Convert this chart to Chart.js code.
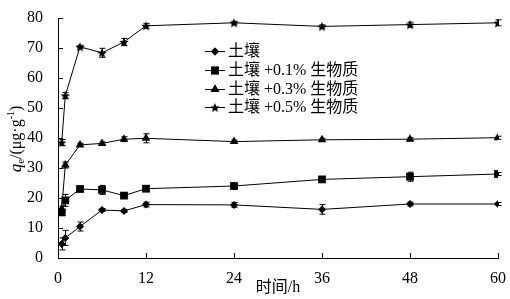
<!DOCTYPE html>
<html>
<head>
<meta charset="utf-8">
<script src="https://cdn.jsdelivr.net/npm/chart.js@4/dist/chart.umd.min.js"></script>
<style>
  html, body { margin: 0; padding: 0; background: #fff; }
  #wrap { width: 510px; height: 299px; }
</style>
</head>
<body>
<div id="wrap"><canvas id="c" width="510" height="299"></canvas></div>
<script>
// ── data ──
const hours   = [0.5, 1, 3, 6, 9, 12, 24, 36, 48, 60];
const soil    = [4.7, 6.7, 10.5, 16.0, 15.7, 17.8, 17.7, 16.2, 18.0, 18.0];
const soil01  = [15.2, 19.2, 23.0, 22.7, 20.8, 23.1, 24.0, 26.2, 27.1, 28.0];
const soil03  = [16.3, 31.0, 37.7, 38.2, 39.6, 39.9, 38.8, 39.4, 39.6, 40.1];
const soil05  = [38.5, 54.2, 70.4, 68.4, 72.0, 77.4, 78.4, 77.2, 77.8, 78.4];
const errSoil   = [2.0, 2.5, 1.5, 0.5, 0.5, 0.8, 0.8, 1.6, 0.6, 0.5];
const errSoil01 = [1.0, 2.0, 0.6, 1.5, 0.5, 0.8, 0.5, 0.6, 1.5, 0.5];
const errSoil03 = [1.0, 1.0, 0.5, 0.5, 0.8, 1.5, 0.5, 0.5, 0.5, 0.5];
const errSoil05 = [1.0, 1.0, 0.5, 1.5, 1.2, 0.8, 0.5, 0.5, 0.8, 1.0];
const xTicks = [0, 12, 24, 36, 48, 60];
const yTicks = [0, 10, 20, 30, 40, 50, 60, 70, 80];
const labels = ['土壤', '土壤 +0.1% 生物质', '土壤 +0.3% 生物质', '土壤 +0.5% 生物质'];

const FONT = '"Liberation Serif", "Times New Roman", "Noto Sans CJK SC", serif';

// filled star marker
function starImg(r) {
  const c = document.createElement('canvas');
  const s = Math.ceil(r * 2 + 2);
  c.width = s; c.height = s;
  const g = c.getContext('2d');
  g.fillStyle = '#000';
  g.beginPath();
  for (let i = 0; i < 10; i++) {
    const rr = i % 2 === 0 ? r : r * 0.45;
    const a = -Math.PI / 2 + i * Math.PI / 5;
    g.lineTo(s / 2 + rr * Math.cos(a), s / 2 + 0.5 + rr * Math.sin(a));
  }
  g.closePath(); g.fill();
  return c;
}
const star = starImg(5);

const series = [
  { data: soil,   err: errSoil,   style: 'rectRot',  radius: 4 },
  { data: soil01, err: errSoil01, style: 'rect',     radius: 5.5 },
  { data: soil03, err: errSoil03, style: 'triangle', radius: 5 },
  { data: soil05, err: errSoil05, style: star,       radius: 5 }
];

const datasets = series.map((s, i) => ({
  label: labels[i],
  data: hours.map((h, j) => ({ x: h, y: s.data[j] })),
  borderColor: '#000', backgroundColor: '#000', borderWidth: 1,
  pointStyle: s.style, pointRadius: s.radius, pointBorderWidth: 0,
  pointBackgroundColor: '#000', tension: 0
}));

// error bars, inward ticks, titles, legend
const decor = {
  id: 'decor',
  afterDatasetsDraw(chart) {
    const ctx = chart.ctx, xs = chart.scales.x, ys = chart.scales.y;
    ctx.save();
    ctx.strokeStyle = '#000'; ctx.lineWidth = 1;
    series.forEach(s => {
      hours.forEach((h, j) => {
        const px = Math.round(xs.getPixelForValue(h)) + 0.5;
        const y1 = ys.getPixelForValue(s.data[j] + s.err[j]);
        const y2 = ys.getPixelForValue(s.data[j] - s.err[j]);
        ctx.beginPath();
        ctx.moveTo(px, y1); ctx.lineTo(px, y2);
        ctx.moveTo(px - 3, y1); ctx.lineTo(px + 3, y1);
        ctx.moveTo(px - 3, y2); ctx.lineTo(px + 3, y2);
        ctx.stroke();
      });
    });
    ctx.restore();
  },
  afterDraw(chart) {
    const ctx = chart.ctx, xs = chart.scales.x, ys = chart.scales.y, a = chart.chartArea;
    ctx.save();
    ctx.strokeStyle = '#000'; ctx.lineWidth = 1;
    ctx.beginPath();
    xTicks.forEach(v => {
      const px = Math.round(xs.getPixelForValue(v)) + 0.5;
      ctx.moveTo(px, a.bottom); ctx.lineTo(px, a.bottom - 5);
    });
    yTicks.forEach(v => {
      const py = Math.round(ys.getPixelForValue(v)) + 0.5;
      ctx.moveTo(a.left, py); ctx.lineTo(a.left + 5, py);
    });
    ctx.stroke();

    // x title
    ctx.fillStyle = '#000';
    ctx.font = '16px ' + FONT;
    ctx.textAlign = 'center'; ctx.textBaseline = 'middle';
    ctx.fillText('时间/h', 278, 288);

    // y title (rotated, rich)
    ctx.save();
    ctx.translate(16, 139);
    ctx.rotate(-Math.PI / 2);
    ctx.textBaseline = 'alphabetic'; ctx.textAlign = 'left';
    const parts = [
      { t: 'q', f: 'italic 17px ' + FONT, dy: 0 },
      { t: 'e', f: '11px ' + FONT, dy: 3 },
      { t: '/(μg·g', f: '16px ' + FONT, dy: 0 },
      { t: '-1', f: '10px ' + FONT, dy: -7 },
      { t: ')', f: '16px ' + FONT, dy: 0 }
    ];
    let w = 0;
    parts.forEach(p => { ctx.font = p.f; w += ctx.measureText(p.t).width; });
    let x = -w / 2;
    parts.forEach(p => {
      ctx.font = p.f;
      ctx.fillText(p.t, x, 5 + p.dy);
      x += ctx.measureText(p.t).width;
    });
    ctx.restore();

    // legend
    const rowY = [51, 70, 89, 107];
    series.forEach((s, i) => {
      const y = rowY[i];
      ctx.beginPath();
      ctx.moveTo(205, y + 0.5); ctx.lineTo(225, y + 0.5); ctx.stroke();
      Chart.helpers.drawPoint(ctx, { pointStyle: s.style, radius: s.radius, borderWidth: 0, rotation: 0 }, 215, y + 0.5);
      ctx.fill();
      ctx.font = '16px ' + FONT;
      ctx.textAlign = 'left'; ctx.textBaseline = 'middle';
      ctx.fillText(labels[i], 228, y + 1);
    });
    ctx.restore();
  }
};

new Chart(document.getElementById('c').getContext('2d'), {
  type: 'line',
  data: { datasets },
  plugins: [decor],
  options: {
    responsive: false, animation: false,
    layout: { padding: { top: 18, right: 12, left: 0, bottom: 0 } },
    plugins: { legend: { display: false }, tooltip: { enabled: false } },
    scales: {
      x: {
        type: 'linear', min: 0, max: 60,
        afterFit: s => { s.height = 41; },
        afterBuildTicks: s => { s.ticks = xTicks.map(v => ({ value: v })); },
        grid: { display: false },
        border: { display: true, color: '#000', width: 1 },
        ticks: { color: '#000', font: { family: FONT, size: 16 }, padding: 3, maxRotation: 0 }
      },
      y: {
        min: 0, max: 80,
        afterFit: s => { s.width = 58; },
        afterBuildTicks: s => { s.ticks = yTicks.map(v => ({ value: v })); },
        grid: { display: false },
        border: { display: true, color: '#000', width: 1 },
        ticks: { color: '#000', font: { family: FONT, size: 16 }, padding: 7 }
      }
    }
  }
});
</script>
</body>
</html>
